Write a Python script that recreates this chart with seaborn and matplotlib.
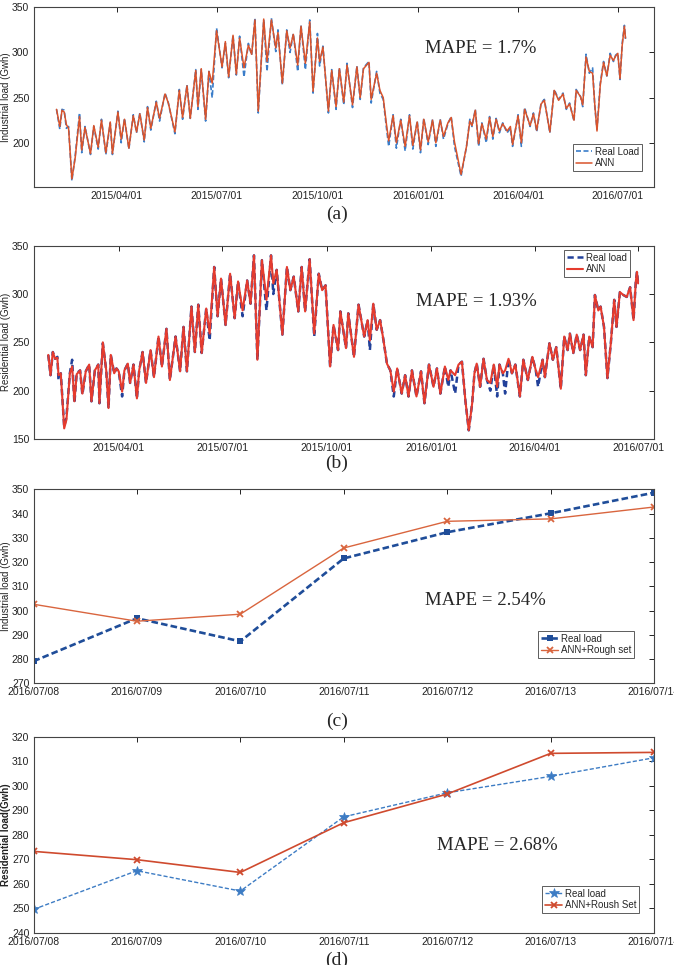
import numpy as np
import pandas as pd
import matplotlib
matplotlib.use('Agg')
import matplotlib.pyplot as plt
import matplotlib.dates as mdates
import seaborn as sns

sns.set_style('white')
plt.rcParams['font.family'] = ['Liberation Sans Narrow', 'Liberation Sans', 'DejaVu Sans']
SERIF = ['Liberation Serif', 'DejaVu Serif']

# ---- data ----
base = pd.Timestamp('2015-04-01')

# (a) industrial load, days counted from 2015/04/01
days_a = [-55, -52, -50, -48, -46, -44, -41, -38, -34, -32, -29, -24, -21, -17, -14,
          -10, -6, -4, 1, 4, 7, 11, 15, 18, 21, 25, 28, 31, 36, 39,
          44, 47, 53, 57, 60, 64, 67, 72, 74, 77, 81, 84, 87, 91, 96,
          99, 102, 106, 109, 112, 116, 120, 123, 126, 129, 134, 137, 141, 145, 147,
          151, 155, 158, 161, 165, 168, 172, 176, 179, 183, 185, 188, 193, 196, 200,
          203, 207, 210, 215, 219, 222, 225, 230, 232, 237, 240, 243, 246, 248, 252,
          255, 259, 263, 267, 270, 274, 277, 280, 284, 288, 291, 295, 298, 302, 305,
          308, 314, 319, 322, 324, 327, 330, 333, 337, 340, 343, 346, 349, 352, 356,
          359, 361, 366, 369, 372, 377, 380, 383, 387, 390, 395, 399, 403, 407, 410,
          413, 417, 419, 423, 425, 428, 431, 434, 436, 438, 441, 444, 447, 450, 453,
          455, 457, 459, 461, 463, 464]
real_a = [237, 215, 237, 236, 216, 218, 158, 185, 233, 189, 218, 187, 218, 193, 226,
          187, 222, 187, 235, 200, 227, 193, 231, 211, 233, 201, 240, 214, 246, 224,
          255, 244, 210, 259, 226, 264, 227, 281, 237, 281, 224, 279, 250, 327, 283,
          310, 272, 319, 275, 318, 273, 310, 297, 338, 233, 336, 279, 338, 301, 325,
          264, 325, 300, 321, 279, 330, 281, 336, 255, 321, 285, 307, 233, 281, 237,
          283, 242, 288, 239, 285, 248, 283, 290, 244, 279, 255, 248, 216, 196, 231,
          194, 226, 191, 231, 193, 224, 189, 227, 198, 226, 196, 226, 204, 221, 229,
          196, 163, 196, 226, 218, 237, 196, 222, 200, 229, 204, 227, 211, 222, 211,
          216, 196, 231, 196, 239, 218, 233, 212, 244, 248, 211, 259, 248, 255, 237,
          244, 224, 259, 251, 240, 298, 277, 283, 240, 215, 266, 290, 274, 299, 290,
          297, 299, 270, 310, 330, 315]
ann_a = [237, 218, 236, 234, 220, 216, 160, 183, 229, 192, 217, 188, 219, 195, 225,
         189, 223, 188, 234, 204, 226, 194, 230, 212, 232, 203, 239, 216, 245, 227,
         254, 244, 212, 258, 228, 263, 227, 280, 240, 282, 226, 279, 266, 324, 284,
         312, 273, 319, 276, 316, 283, 308, 298, 336, 235, 337, 290, 336, 305, 322,
         266, 324, 305, 320, 286, 329, 288, 334, 257, 316, 290, 306, 235, 280, 240,
         282, 245, 286, 242, 284, 250, 282, 289, 248, 277, 258, 250, 220, 202, 230,
         200, 225, 196, 230, 197, 223, 192, 226, 201, 225, 200, 225, 207, 222, 228,
         201, 165, 196, 224, 219, 236, 199, 221, 204, 228, 207, 226, 213, 221, 213,
         218, 198, 230, 200, 237, 219, 232, 214, 243, 247, 212, 258, 247, 254, 238,
         243, 225, 258, 251, 242, 295, 279, 277, 242, 213, 264, 289, 274, 297, 291,
         296, 299, 271, 308, 329, 316]

# (b) residential load, days counted from 2015/04/01
days_b = [-62, -60, -58, -56, -54, -53, -51, -48, -46, -43, -41, -39, -37, -34, -32,
          -29, -26, -24, -21, -18, -17, -14, -11, -9, -7, -4, -2, 0, 3, 5,
          8, 10, 13, 16, 18, 21, 24, 28, 31, 35, 38, 42, 45, 50, 54,
          57, 60, 64, 67, 70, 73, 77, 80, 84, 87, 90, 94, 98, 102, 105,
          109, 113, 116, 119, 122, 126, 130, 134, 136, 139, 144, 148, 151, 154, 158,
          161, 164, 168, 172, 176, 179, 182, 186, 189, 193, 195, 200, 202, 207, 211,
          216, 219, 221, 224, 227, 230, 233, 236, 239, 242, 245, 249, 252, 255, 258,
          262, 266, 269, 273, 277, 280, 283, 287, 290, 292, 296, 299, 302, 305, 308,
          311, 313, 315, 318, 321, 324, 327, 330, 333, 335, 338, 340, 343, 346, 349,
          353, 356, 360, 364, 367, 369, 373, 375, 379, 382, 385, 389, 392, 395, 397,
          400, 403, 406, 409, 411, 414, 417, 419, 422, 424, 427, 430, 433, 436, 438,
          441, 444, 447, 450, 453, 455, 456, 457]
real_b = [237, 216, 240, 233, 235, 211, 218, 163, 173, 218, 232, 187, 218, 221, 196,
          220, 227, 189, 221, 227, 187, 249, 221, 182, 237, 218, 223, 220, 194, 221,
          228, 208, 227, 192, 221, 240, 208, 242, 214, 256, 225, 264, 211, 256, 220,
          266, 220, 287, 240, 289, 239, 285, 252, 328, 277, 316, 268, 321, 275, 313,
          277, 314, 290, 340, 232, 335, 283, 340, 300, 325, 258, 328, 304, 318, 282,
          328, 282, 336, 256, 321, 304, 309, 225, 268, 242, 282, 244, 280, 235, 289,
          256, 273, 242, 290, 263, 273, 252, 228, 221, 194, 223, 197, 216, 194, 221,
          194, 220, 187, 227, 204, 223, 197, 225, 204, 221, 197, 227, 230, 190, 159,
          187, 218, 228, 204, 233, 211, 200, 227, 194, 227, 218, 197, 233, 218, 227,
          194, 232, 211, 235, 221, 204, 232, 214, 249, 232, 245, 202, 256, 242, 259,
          239, 258, 242, 258, 216, 256, 245, 299, 283, 287, 266, 213, 249, 294, 266,
          302, 299, 297, 307, 273, 313, 323, 311]
ann_b = [237, 216, 240, 233, 234, 216, 218, 161, 170, 218, 225, 189, 217, 221, 197,
         220, 227, 189, 221, 227, 187, 250, 221, 182, 237, 218, 223, 220, 199, 221,
         228, 208, 227, 192, 221, 240, 208, 242, 214, 256, 225, 264, 211, 256, 220,
         266, 220, 287, 240, 289, 239, 285, 259, 328, 277, 316, 268, 321, 275, 313,
         283, 314, 290, 340, 232, 335, 294, 340, 311, 325, 258, 328, 304, 318, 282,
         328, 282, 336, 259, 321, 304, 309, 225, 268, 242, 282, 244, 280, 235, 289,
         256, 273, 252, 290, 263, 273, 252, 228, 221, 199, 223, 197, 216, 194, 221,
         194, 220, 187, 227, 204, 223, 197, 225, 211, 221, 216, 227, 230, 190, 159,
         187, 218, 228, 204, 233, 211, 208, 227, 204, 227, 218, 221, 233, 218, 227,
         194, 232, 211, 235, 221, 214, 232, 214, 249, 232, 245, 202, 256, 242, 259,
         239, 258, 242, 258, 216, 256, 245, 299, 283, 287, 266, 213, 249, 294, 266,
         302, 299, 297, 307, 273, 313, 323, 311]

# (c), (d) one-week test period
test_days = ['2016-07-08', '2016-07-09', '2016-07-10', '2016-07-11',
             '2016-07-12', '2016-07-13', '2016-07-14']
real_c = [279.1, 296.8, 287.3, 321.5, 332.3, 340.1, 348.6]
ann_c = [302.6, 295.6, 298.5, 325.8, 336.8, 337.8, 342.7]
real_d = [249.5, 265.3, 257.0, 287.3, 297.1, 303.8, 311.4]
ann_d = [273.2, 269.8, 264.6, 284.9, 296.6, 313.2, 313.6]

quarter_ticks = ['2015-04-01', '2015-07-01', '2015-10-01',
                 '2016-01-01', '2016-04-01', '2016-07-01']

dates_a = base + pd.to_timedelta(days_a, unit='D')
dates_b = base + pd.to_timedelta(days_b, unit='D')
dates_t = pd.to_datetime(test_days)

# ---- figure ----
W, H = 674, 965
fig = plt.figure(figsize=(W / 100, H / 100), dpi=100)


def px_axes(top, bottom, left=33.5, right=654):
    return fig.add_axes([left / W, 1 - bottom / H, (right - left) / W, (bottom - top) / H])


def style_axes(ax, ylabel, bold=False):
    for sp in ax.spines.values():
        sp.set_color('#444444')
        sp.set_linewidth(0.8)
    ax.tick_params(direction='in', top=True, right=True, length=3.5, width=0.7,
                   labelsize=7.5, colors='#222222', pad=3)
    ax.set_xlabel('')
    ax.set_ylabel(ylabel, fontsize=7, fontweight='bold' if bold else 'normal', color='#222222')
    ax.yaxis.set_label_coords(-0.037, 0.5)


def add_legend(ax, loc, anchor):
    leg = ax.legend(loc=loc, bbox_to_anchor=anchor, borderaxespad=0, fontsize=7,
                    fancybox=False, edgecolor='#333333', handlelength=1.7,
                    handletextpad=0.3, labelspacing=0.15, borderpad=0.3)
    leg.get_frame().set_linewidth(0.7)


ax_a = px_axes(7.3, 187)
ax_b = px_axes(245.7, 439)
ax_c = px_axes(489.3, 683.3)
ax_d = px_axes(736.7, 932.7)

# (a)
sns.lineplot(x=dates_a, y=real_a, ax=ax_a, color='#3A7DC9', linestyle=(0, (3, 1.5)),
             linewidth=1.2, label='Real Load', estimator=None)
sns.lineplot(x=dates_a, y=ann_a, ax=ax_a, color='#D9532B', linewidth=1.1,
             label='ANN', estimator=None)
ax_a.set_ylim(151, 350)
ax_a.set_yticks([200, 250, 300, 350])
ax_a.set_xlim(base + pd.Timedelta(days=-76), base + pd.Timedelta(days=490))
ax_a.text(0.631, 0.768, 'MAPE = 1.7%', transform=ax_a.transAxes, fontsize=13.5,
          family=SERIF, va='center')
add_legend(ax_a, 'lower right', (0.981, 0.089))
style_axes(ax_a, 'Industrial load (Gwh)')

# (b)
sns.lineplot(x=dates_b, y=real_b, ax=ax_b, color='#22419A', linestyle=(0, (2.5, 1.5)),
             linewidth=1.8, label='Real load', estimator=None)
sns.lineplot(x=dates_b, y=ann_b, ax=ax_b, color='#E53B2E', linewidth=1.5,
             label='ANN', estimator=None)
ax_b.set_ylim(150, 350)
ax_b.set_yticks([150, 200, 250, 300, 350])
ax_b.set_xlim(base + pd.Timedelta(days=-75), base + pd.Timedelta(days=471))
ax_b.text(0.617, 0.71, 'MAPE = 1.93%', transform=ax_b.transAxes, fontsize=13.5,
          family=SERIF, va='center')
add_legend(ax_b, 'upper right', (0.961, 0.978))
style_axes(ax_b, 'Residential load (Gwh)')

for ax in (ax_a, ax_b):
    ax.set_xticks(pd.to_datetime(quarter_ticks))
    ax.xaxis.set_major_formatter(mdates.DateFormatter('%Y/%m/%d'))

# (c)
sns.lineplot(x=dates_t, y=real_c, ax=ax_c, color='#1F4D99', linestyle=(0, (2.5, 1.2)),
             linewidth=1.9, marker='s', markersize=4.5, markeredgewidth=0,
             label='Real load', estimator=None)
sns.lineplot(x=dates_t, y=ann_c, ax=ax_c, color='#D9653E', linewidth=1.0,
             marker='x', markersize=5, markeredgewidth=1.3, markeredgecolor='#D9653E',
             label='ANN+Rough set', estimator=None)
ax_c.set_ylim(270, 350)
ax_c.set_yticks(np.arange(270, 351, 10))
ax_c.text(0.631, 0.429, 'MAPE = 2.54%', transform=ax_c.transAxes, fontsize=13.5,
          family=SERIF, va='center')
add_legend(ax_c, 'lower right', (0.968, 0.13))
style_axes(ax_c, 'Industrial load (Gwh)')

# (d)
sns.lineplot(x=dates_t, y=real_d, ax=ax_d, color='#3D7CC4', linestyle=(0, (3, 1.5)),
             linewidth=1.0, marker='*', markersize=7, markeredgewidth=0.5,
             markeredgecolor='#3D7CC4', label='Real load', estimator=None)
sns.lineplot(x=dates_t, y=ann_d, ax=ax_d, color='#CF4A2E', linewidth=1.2,
             marker='x', markersize=5, markeredgewidth=1.3, markeredgecolor='#CF4A2E',
             label='ANN+Roush Set', estimator=None)
ax_d.set_ylim(240, 320)
ax_d.set_yticks(np.arange(240, 321, 10))
ax_d.text(0.65, 0.447, 'MAPE = 2.68%', transform=ax_d.transAxes, fontsize=13.5,
          family=SERIF, va='center')
add_legend(ax_d, 'lower right', (0.976, 0.10))
style_axes(ax_d, 'Residential load(Gwh)', bold=True)

for ax in (ax_c, ax_d):
    ax.set_xlim(dates_t[0], dates_t[-1])
    ax.set_xticks(dates_t)
    ax.xaxis.set_major_formatter(mdates.DateFormatter('%Y/%m/%d'))

for label, y in [('(a)', 214), ('(b)', 463), ('(c)', 721), ('(d)', 960)]:
    fig.text(0.5, 1 - y / H, label, ha='center', va='center', fontsize=14, family=SERIF)

fig.savefig('out.png', dpi=100)
